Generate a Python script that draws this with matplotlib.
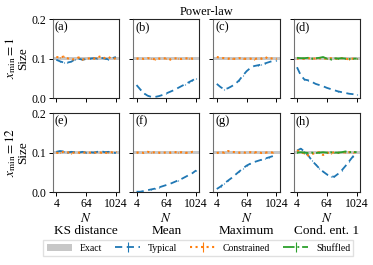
import numpy as np
import matplotlib
matplotlib.use('Agg')
import matplotlib.pyplot as plt

plt.rcParams['font.family'] = ['Liberation Serif', 'DejaVu Serif']
plt.rcParams['mathtext.fontset'] = 'stix'

# sample sizes (half powers of two from 4 to 1024)
N = [4, 5.66, 8, 11.3, 16, 22.6, 32, 45.3, 64, 90.5, 128, 181, 256, 362, 512, 724, 1024]

col_titles = ['KS distance', 'Mean', 'Maximum', 'Cond. ent. 1']
row_titles = ['$x_{\\min} = 1$\nSize', '$x_{\\min} = 12$\nSize']
panel_tags = ['(a)', '(b)', '(c)', '(d)', '(e)', '(f)', '(g)', '(h)']
tick_labels = ['4', '64', '1024']

# row 1: x_min = 1
typ_a = [0.097, 0.093, 0.090, 0.090, 0.092, 0.098, 0.100, 0.097, 0.099, 0.100, 0.101, 0.100, 0.102, 0.100, 0.098, 0.101, 0.104]
con_a = [0.104, 0.103, 0.105, 0.101, 0.097, 0.099, 0.103, 0.098, 0.099, 0.101, 0.100, 0.103, 0.106, 0.101, 0.104, 0.099, 0.101]
typ_b = [0.033, 0.022, 0.012, 0.006, 0.003, 0.003, 0.005, 0.008, 0.012, 0.016, 0.020, 0.025, 0.030, 0.035, 0.040, 0.045, 0.050]
con_b = [0.100, 0.101, 0.099, 0.101, 0.100, 0.098, 0.100, 0.101, 0.100, 0.098, 0.101, 0.100, 0.099, 0.101, 0.100, 0.100, 0.101]
typ_c = [0.036, 0.028, 0.022, 0.025, 0.030, 0.036, 0.045, 0.057, 0.068, 0.076, 0.081, 0.083, 0.085, 0.088, 0.091, 0.094, 0.095]
con_c = [0.104, 0.102, 0.101, 0.100, 0.100, 0.099, 0.101, 0.100, 0.099, 0.100, 0.098, 0.101, 0.100, 0.104, 0.099, 0.101, 0.100]
typ_d = [0.078, 0.058, 0.047, 0.045, 0.041, 0.036, 0.033, 0.030, 0.026, 0.023, 0.020, 0.017, 0.015, 0.013, 0.011, 0.010, 0.009]
con_d = [0.100, 0.101, 0.099, 0.101, 0.100, 0.100, 0.101, 0.099, 0.100, 0.101, 0.099, 0.100, 0.101, 0.100, 0.098, 0.100, 0.100]
shu_d = [0.102, 0.101, 0.101, 0.102, 0.100, 0.101, 0.102, 0.104, 0.100, 0.098, 0.101, 0.100, 0.101, 0.100, 0.099, 0.100, 0.100]

# row 2: x_min = 12
typ_e = [0.102, 0.104, 0.103, 0.100, 0.102, 0.101, 0.100, 0.102, 0.100, 0.101, 0.100, 0.102, 0.104, 0.101, 0.102, 0.100, 0.099]
con_e = [0.099, 0.100, 0.102, 0.101, 0.098, 0.101, 0.100, 0.099, 0.101, 0.100, 0.099, 0.101, 0.100, 0.099, 0.100, 0.101, 0.103]
typ_f = [0.001, 0.001, 0.003, 0.005, 0.007, 0.009, 0.012, 0.015, 0.018, 0.021, 0.025, 0.029, 0.033, 0.038, 0.043, 0.048, 0.055]
con_f = [0.100, 0.101, 0.099, 0.102, 0.100, 0.101, 0.100, 0.099, 0.101, 0.100, 0.102, 0.100, 0.101, 0.100, 0.099, 0.102, 0.101]
typ_g = [0.008, 0.014, 0.022, 0.029, 0.036, 0.044, 0.052, 0.060, 0.067, 0.072, 0.076, 0.079, 0.082, 0.085, 0.088, 0.091, 0.094]
con_g = [0.099, 0.101, 0.100, 0.104, 0.102, 0.101, 0.100, 0.101, 0.099, 0.101, 0.100, 0.102, 0.099, 0.100, 0.101, 0.100, 0.099]
typ_h = [0.105, 0.110, 0.103, 0.093, 0.080, 0.070, 0.060, 0.052, 0.045, 0.040, 0.039, 0.046, 0.055, 0.066, 0.078, 0.090, 0.101]
con_h = [0.106, 0.101, 0.098, 0.093, 0.096, 0.100, 0.101, 0.094, 0.100, 0.098, 0.101, 0.099, 0.102, 0.100, 0.101, 0.100, 0.101]
shu_h = [0.100, 0.101, 0.100, 0.099, 0.100, 0.099, 0.100, 0.101, 0.100, 0.101, 0.100, 0.100, 0.101, 0.103, 0.101, 0.102, 0.101]

typical = [typ_a, typ_b, typ_c, typ_d, typ_e, typ_f, typ_g, typ_h]
constrained = [con_a, con_b, con_c, con_d, con_e, con_f, con_g, con_h]
shuffled = {3: shu_d, 7: shu_h}

blue, orange, green = '#1f77b4', '#ff7f0e', '#2ca02c'

fig, axes = plt.subplots(2, 4, figsize=(3.73, 2.65), dpi=100)
fig.subplots_adjust(left=0.142, right=0.965, top=0.928, bottom=0.275, wspace=0.21, hspace=0.19)

err = np.full(len(N), 0.0006)
for k, ax in enumerate(axes.flat):
    r, c = divmod(k, 4)
    exact = ax.axhspan(0.096, 0.104, color='0.78', lw=0, zorder=1)
    h_typ = ax.errorbar(N, typical[k], yerr=err, fmt='--', color=blue, lw=1.3,
                        elinewidth=0.8, dashes=(4, 2.5), zorder=3)
    h_con = ax.errorbar(N, constrained[k], yerr=err, fmt=':', color=orange, lw=1.5,
                        elinewidth=0.8, zorder=4)
    if k in shuffled:
        h_shu = ax.errorbar(N, shuffled[k], yerr=err, fmt='-.', color=green, lw=1.3,
                            elinewidth=0.8, zorder=5)
    ax.set_xscale('log', base=2)
    ax.set_xlim(2 ** 1.55, 2 ** 10.45)
    ax.set_ylim(0, 0.2)
    ax.set_xticks([4, 64, 1024])
    ax.set_xticks([], minor=True)
    ax.set_yticks([0.0, 0.1, 0.2])
    ax.tick_params(labelsize=8.5, length=3, width=0.7, pad=1.5)
    for s in ax.spines.values():
        s.set_color('0.15')
        s.set_linewidth(0.8)
    ax.spines['left'].set_color('0.45')
    if r == 1:
        ax.set_xticklabels(tick_labels)
        ax.set_xlabel('$N$\n' + col_titles[c], fontsize=9.5, labelpad=1, linespacing=1.05)
    else:
        ax.set_xticklabels([])
    if c == 0:
        ax.set_yticklabels(['0.0', '0.1', '0.2'])
        ax.set_ylabel(row_titles[r], fontsize=9.5, labelpad=2, linespacing=0.95)
    else:
        ax.set_yticklabels([])
    ax.text(0.03, 0.97, panel_tags[k], transform=ax.transAxes, ha='left', va='top', fontsize=9)

fig.suptitle('Power-law', fontsize=9, x=0.553, y=0.978)

fig.legend([exact, h_typ, h_con, h_shu], ['Exact', 'Typical', 'Constrained', 'Shuffled'],
           loc='lower center', bbox_to_anchor=(0.532, 0.015), ncol=4, fontsize=7,
           frameon=True, fancybox=False, edgecolor='0.85', handlelength=2.6,
           columnspacing=1.3, borderpad=0.35, handletextpad=0.8)

fig.savefig('out.png', dpi=100)
